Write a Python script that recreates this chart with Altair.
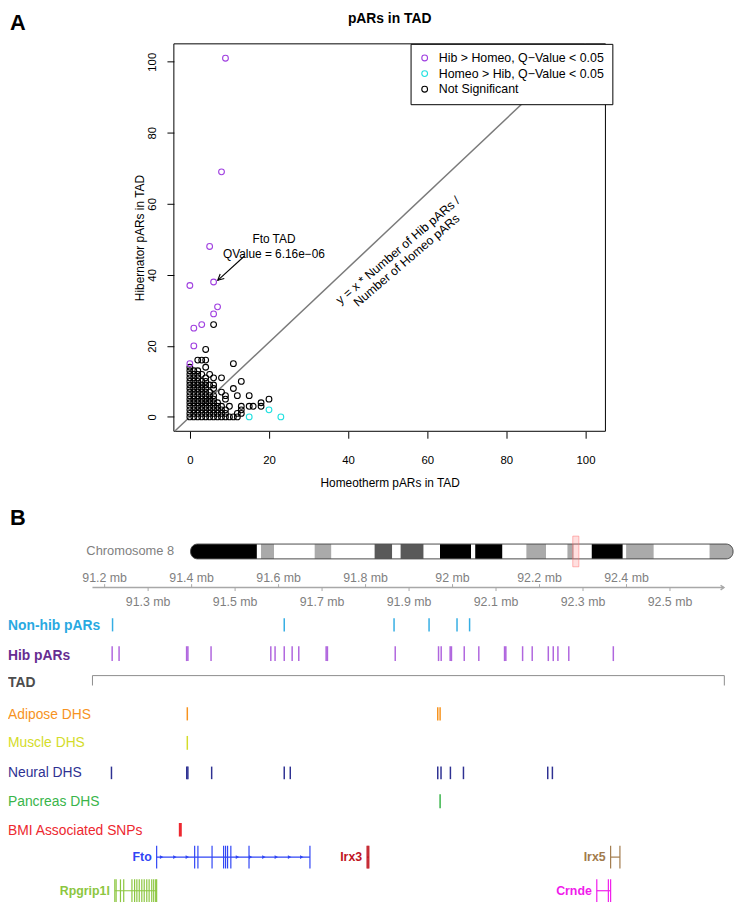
import altair as alt
import pandas as pd

# ======================= Panel A data =======================
tick_values = [0, 20, 40, 60, 80, 100]
axis_domain = [-4.04, 105.04]

hib_homeo_x = [9, 8, 5, 6, 0, 7, 6, 3, 1, 1, 0]
hib_homeo_y = [101, 69, 48, 38, 37, 31, 29, 26, 25, 20, 15]
homeo_hib_x = [15, 20, 23]
homeo_hib_y = [0, 2, 0]

# not significant TADs: hibernator count -> list of homeotherm counts
ns_rows = {
    0: [0, 1, 2, 3, 4, 5, 6, 7, 8, 9, 10, 11, 12],
    1: [0, 1, 2, 3, 4, 5, 6, 7, 8, 9, 12, 13],
    2: [0, 1, 2, 3, 4, 5, 6, 7, 8, 9, 13],
    3: [0, 1, 2, 3, 4, 5, 6, 7, 8, 10, 13, 15, 16, 18],
    4: [0, 1, 2, 3, 4, 5, 6, 7, 18],
    5: [0, 1, 2, 3, 4, 5, 6, 9, 20],
    6: [0, 1, 2, 3, 4, 5, 6, 9, 12, 15],
    7: [0, 1, 2, 3, 4, 5, 8],
    8: [0, 1, 2, 3, 4, 6, 11],
    9: [0, 1, 2, 3, 4, 5, 6],
    10: [0, 1, 2, 3, 4, 13],
    11: [0, 1, 2, 4, 6, 8],
    12: [0, 1, 2, 3, 5],
    13: [0, 1, 2],
    14: [0, 4],
    15: [11],
    16: [2, 3, 4],
    19: [4],
    26: [6],
}

pars_ratio = 1.05  # Number of Hib pARs / Number of Homeo pARs

group_names = ["Hib > Homeo, Q\u2212Value < 0.05",
               "Homeo > Hib, Q\u2212Value < 0.05",
               "Not Significant"]
group_colors = ["#A040E0", "#22E0E0", "#000000"]

fto_point_x = [6]
fto_point_y = [38]
fto_label = ["Fto TAD", "QValue = 6.16e\u221206"]
diag_label = ["y = x * Number of Hib pARs /", "Number of Homeo pARs"]
diag_label_x = [52.6]
diag_label_y = [46.9]

# ======================= Panel B data =======================
chr8_length = 129.4
band_start = [0, 15.8, 16.8, 19.9, 29.6, 33.6, 43.9, 48.1, 50.1, 55.6, 59.5, 66.9,
              67.9, 74.4, 80.1, 84.8, 89.9, 91.4, 95.7, 103.1, 103.9, 110.5, 123.8]
band_end = [15.8, 16.8, 19.9, 29.6, 33.6, 43.9, 48.1, 50.1, 55.6, 59.5, 66.9, 67.9,
            74.4, 80.1, 84.8, 89.9, 91.4, 95.7, 103.1, 103.9, 110.5, 123.8, 129.4]
band_stain = ["gpos100", "gneg", "gpos33", "gneg", "gpos33", "gneg", "gpos66", "gneg",
              "gpos66", "gneg", "gpos100", "gneg", "gpos100", "gneg", "gpos33", "gneg",
              "gpos33", "gneg", "gpos100", "gneg", "gpos33", "gneg", "gpos33"]
stain_names = ["gneg", "gpos33", "gpos66", "gpos100"]
stain_colors = ["#FFFFFF", "#AAAAAA", "#595959", "#000000"]

region_start = 91.172
region_end = 92.624

axis_upper_ticks = [91.2, 91.4, 91.6, 91.8, 92.0, 92.2, 92.4]
axis_lower_ticks = [91.3, 91.5, 91.7, 91.9, 92.1, 92.3, 92.5]

non_hib_pars = [91.2182, 91.6130, 91.8655, 91.9460, 92.0103, 92.0392]
hib_pars = [91.2173, 91.2332, 91.3885, 91.3915, 91.4447, 91.5821, 91.5919, 91.6130,
            91.6312, 91.6464, 91.7093, 91.7123, 91.8682, 91.9678, 91.9739, 91.9945,
            91.9975, 92.0269, 92.0604, 92.1196, 92.1226, 92.1611, 92.1832, 92.2202,
            92.2316, 92.2423, 92.2673, 92.3697]
tad_start = 91.172
tad_end = 92.625
adipose_dhs = [91.3901, 91.9660, 91.9714]
muscle_dhs = [91.3901]
neural_dhs = [91.2157, 91.3888, 91.3914, 91.4461, 91.6130, 91.6269, 91.9660, 91.9735,
              91.9951, 92.0251, 92.2189, 92.2296]
pancreas_dhs = [91.9714]
bmi_snps = [91.3740]

fto_exons = [91.3196, 91.4070, 91.4145, 91.4470, 91.4736, 91.4781, 91.4827, 91.4902,
             91.5320, 91.6721]
fto_strand_marks = [91.3310, 91.3615, 91.3901, 91.5054, 91.5357, 91.5662, 91.5948,
                    91.6253, 91.6533]
irx3_exons = [91.8035, 91.8055, 91.8075]
irx5_exons = [92.3635, 92.3849]
crnde_exons = [92.3317, 92.3583, 92.3635]
rpgrip1l_exons = [91.2234, 91.2264, 91.2364, 91.2439, 91.2628, 91.2689, 91.2741,
                  91.2796, 91.2855, 91.2910, 91.2969, 91.3023, 91.3083, 91.3128,
                  91.3174, 91.3196]

# ======================= layout (pixels) =======================
W, H = 735, 900
A_XR = [167.7, 604.0]
A_YR = [423.0, 31.3]
FONT = "Liberation Sans"

# ======================= Panel A =======================
xs = alt.Scale(domain=axis_domain, range=A_XR, nice=False, zero=False)
ys = alt.Scale(domain=axis_domain, range=A_YR, nice=False, zero=False)

x_axis = alt.Axis(values=tick_values, title="Homeotherm pARs in TAD", offset=A_YR[0] - H,
                  domain=False, grid=False, tickSize=7, tickColor="black", tickWidth=1,
                  labelColor="black", labelFontSize=11.5, labelPadding=23,
                  labelBaseline="middle", labelFlush=False, titleFontSize=12,
                  titleFontWeight="normal", titleColor="black", titleY=52,
                  titleBaseline="middle")
y_axis = alt.Axis(values=tick_values, title="Hibernator pARs in TAD", offset=-A_XR[0],
                  domain=False, grid=False, tickSize=7, tickColor="black", tickWidth=1,
                  labelColor="black", labelFontSize=11.5, labelPadding=14.5,
                  labelAngle=270, labelAlign="center", labelBaseline="middle",
                  labelFlush=False, titleFontSize=12, titleFontWeight="normal",
                  titleColor="black", titleX=-35, titleAngle=270,
                  titleBaseline="middle")


def ax(field):
    return alt.X(f"{field}:Q", scale=xs, axis=x_axis)


def ay(field):
    return alt.Y(f"{field}:Q", scale=ys, axis=y_axis)


rows = []
for hib, homeos in ns_rows.items():
    for h in homeos:
        rows.append({"homeo": h, "hib": hib, "group": group_names[2]})
for h, b in zip(hib_homeo_x, hib_homeo_y):
    rows.append({"homeo": h, "hib": b, "group": group_names[0]})
for h, b in zip(homeo_hib_x, homeo_hib_y):
    rows.append({"homeo": h, "hib": b, "group": group_names[1]})
pts_df = pd.DataFrame(rows)

legend = alt.Legend(orient="none", legendX=407, legendY=31.3, title=None,
                    strokeColor="black", fillColor="white", padding=8, cornerRadius=0,
                    labelFontSize=12.5, labelColor="black", labelOffset=8,
                    labelLimit=400, symbolType="circle", symbolSize=34,
                    symbolStrokeWidth=1.1, rowPadding=2.8)

points = alt.Chart(pts_df).mark_point(shape="circle", filled=False, size=34,
                                      strokeWidth=1.1, opacity=1).encode(
    x=ax("homeo"), y=ay("hib"),
    color=alt.Color("group:N", scale=alt.Scale(domain=group_names, range=group_colors),
                    legend=legend),
)

# frame of the plot region (domain limits through the scales)
frame_df = pd.DataFrame({"x0": [axis_domain[0]], "x1": [axis_domain[1]],
                         "y0": [axis_domain[0]], "y1": [axis_domain[1]]})
frame = alt.Chart(frame_df).mark_rect(fillOpacity=0, stroke="black", strokeWidth=1).encode(
    x=ax("x0"), x2="x1:Q", y=ay("y0"), y2="y1:Q")

# ratio line y = x * ratio, inside the plotting region
lx0 = max(axis_domain[0], axis_domain[0] / pars_ratio)
lx1 = min(axis_domain[1], axis_domain[1] / pars_ratio)
line_df = pd.DataFrame({"x": [lx0, lx1], "y": [lx0 * pars_ratio, lx1 * pars_ratio]})
ratio_line = alt.Chart(line_df).mark_line(color="#7A7A7A", strokeWidth=1.5).encode(
    x=ax("x"), y=ay("y"))

diag_df = pd.DataFrame({"x": diag_label_x, "y": diag_label_y})
diag_text = alt.Chart(diag_df).mark_text(
    angle=319.5, align="center", baseline="middle", fontSize=12.5,
    lineHeight=13.5, color="black").encode(
    x=ax("x"), y=ay("y"), text=alt.value(diag_label))

fto_df = pd.DataFrame({"x": fto_point_x, "y": fto_point_y})
fto_text = alt.Chart(fto_df).mark_text(
    align="center", baseline="middle", dx=61, dy=-43, fontSize=12, lineHeight=15,
    color="black").encode(x=ax("x"), y=ay("y"), text=alt.value(fto_label))
fto_arrow = alt.Chart(fto_df).mark_rule(
    color="black", strokeWidth=1.1, xOffset=31, yOffset=-26, x2Offset=4.2,
    y2Offset=-1.7).encode(x=ax("x"), y=ay("y"), x2="x:Q", y2="y:Q")
fto_head = alt.Chart(fto_df).mark_point(
    shape="M-0.5,1L0,0L0.5,1", filled=False, size=150, stroke="black", strokeWidth=1.1,
    angle=227.7, xOffset=4.2, yOffset=-1.7, opacity=1).encode(x=ax("x"), y=ay("y"))

title_df = pd.DataFrame({"t": ["pARs in TAD"]})
title_a = alt.Chart(title_df).mark_text(
    fontSize=14, fontWeight="bold", align="center", baseline="middle",
    color="black").encode(x=alt.value((A_XR[0] + A_XR[1]) / 2), y=alt.value(6),
                          text="t:N")

panel_a = alt.layer(frame, ratio_line, points, diag_text, fto_text, fto_arrow, fto_head,
                    title_a)

# ======================= Panel B =======================
gscale = alt.Scale(domain=[91.2, 92.4], range=[97.7, 625.3], nice=False, zero=False)


def gx(field):
    return alt.X(f"{field}:Q", scale=gscale, axis=None)


def label(text, y, color, size=14, weight="normal", x=0, align="left"):
    df = pd.DataFrame({"t": [text]})
    return alt.Chart(df).mark_text(fontSize=size, fontWeight=weight, color=color,
                                   align=align, baseline="middle").encode(
        x=alt.value(x), y=alt.value(y), text="t:N")


def ticks(positions, color, y0, y1, width=1.5, opacity=1.0):
    df = pd.DataFrame({"pos": positions})
    return alt.Chart(df).mark_rule(color=color, strokeWidth=width, opacity=opacity).encode(
        x=gx("pos"), y=alt.value(y0), y2=alt.value(y1))


def hline(start, end, color, y, width=1.2):
    df = pd.DataFrame({"s": [start], "e": [end]})
    return alt.Chart(df).mark_rule(color=color, strokeWidth=width).encode(
        x=gx("s"), x2="e:Q", y=alt.value(y))


b_layers = []

# panel letters
b_layers.append(label("A", 10, "black", size=22, weight="bold", x=2))
b_layers.append(label("B", 511, "black", size=22, weight="bold", x=2))

# genome axis
AX_Y = 581
b_layers.append(hline(region_start, region_end, "#A8A8A8", AX_Y, width=1.5))
arrow_df = pd.DataFrame({"pos": [region_end]})
b_layers.append(alt.Chart(arrow_df).mark_point(
    shape="M-1,-0.7L0,0L-1,0.7", filled=False, size=45, stroke="#A8A8A8",
    strokeWidth=1.5, opacity=1).encode(x=gx("pos"), y=alt.value(AX_Y)))
b_layers.append(ticks(axis_upper_ticks, "#A8A8A8", AX_Y - 3.5, AX_Y, width=1))
b_layers.append(ticks(axis_lower_ticks, "#A8A8A8", AX_Y, AX_Y + 3.5, width=1))
up_df = pd.DataFrame({"pos": axis_upper_ticks,
                      "lab": [f"{v:g} mb" for v in axis_upper_ticks]})
lo_df = pd.DataFrame({"pos": axis_lower_ticks,
                      "lab": [f"{v:g} mb" for v in axis_lower_ticks]})
b_layers.append(alt.Chart(up_df).mark_text(fontSize=12.5, color="#7F7F7F",
                                           baseline="middle").encode(
    x=gx("pos"), y=alt.value(AX_Y - 10), text="lab:N"))
b_layers.append(alt.Chart(lo_df).mark_text(fontSize=12.5, color="#7F7F7F",
                                           baseline="middle").encode(
    x=gx("pos"), y=alt.value(AX_Y + 14.3), text="lab:N"))

# data tracks
b_layers.append(label("Non-hib pARs", 619.5, "#29A9E1", weight="bold"))
b_layers.append(ticks(non_hib_pars, "#35AEE4", 612, 625.3))
b_layers.append(label("Hib pARs", 650, "#662D91", weight="bold"))
b_layers.append(ticks(hib_pars, "#A24BD8", 640.3, 655.3, opacity=0.85))

b_layers.append(label("TAD", 677.5, "#4D4D4D", weight="bold"))
b_layers.append(hline(tad_start, tad_end, "#8C8C8C", 670, width=1))
b_layers.append(ticks([tad_start, tad_end], "#8C8C8C", 670, 680, width=1))

b_layers.append(label("Adipose DHS", 709.5, "#F7931E"))
b_layers.append(ticks(adipose_dhs, "#F7931E", 702, 715.3))
b_layers.append(label("Muscle DHS", 738.5, "#D4DC2A"))
b_layers.append(ticks(muscle_dhs, "#D4DC2A", 731, 745))
b_layers.append(label("Neural DHS", 768.5, "#2E3192"))
b_layers.append(ticks(neural_dhs, "#2E3192", 762, 774.7))
b_layers.append(label("Pancreas DHS", 797.5, "#39B54A"))
b_layers.append(ticks(pancreas_dhs, "#39B54A", 790, 804))
b_layers.append(label("BMI Associated SNPs", 827.5, "#ED2830"))
b_layers.append(ticks(bmi_snps, "#ED2830", 819, 832.7, width=3))

# genes
ROW1 = (842, 865)
ROW2 = (876, 899)


def gene(name, color, exons, row, strand_marks=None):
    yc = (row[0] + row[1]) / 2
    layers = [hline(min(exons), max(exons), color, yc, width=1.2),
              ticks(exons, color, row[0], row[1], width=1.2)]
    if strand_marks:
        sdf = pd.DataFrame({"pos": strand_marks})
        layers.append(alt.Chart(sdf).mark_point(
            shape="triangle-right", filled=True, size=16, color=color, opacity=1).encode(
            x=gx("pos"), y=alt.value(yc)))
    ldf = pd.DataFrame({"pos": [min(exons)], "t": [name]})
    layers.append(alt.Chart(ldf).mark_text(
        fontSize=12.5, fontWeight="bold", color=color, align="right", baseline="middle",
        dx=-5).encode(x=gx("pos"), y=alt.value(yc), text="t:N"))
    return layers


b_layers += gene("Fto", "#2F45F5", fto_exons, ROW1, fto_strand_marks)
b_layers += gene("Irx3", "#C0141E", irx3_exons, ROW1)
b_layers += gene("Irx5", "#A27B4C", irx5_exons, ROW1)
b_layers += gene("Rpgrip1l", "#8CC63F", rpgrip1l_exons, ROW2)
b_layers += gene("Crnde", "#F01CEB", crnde_exons, ROW2)

panel_b = alt.layer(*b_layers)

# ======================= Ideogram =======================
iscale = alt.Scale(domain=[0, chr8_length], range=[184.6, 733.0], nice=False, zero=False)
IDEO = (537, 552)
bands_df = pd.DataFrame({"s": band_start, "e": band_end, "stain": band_stain})
stain_color = alt.Color("stain:N", scale=alt.Scale(domain=stain_names, range=stain_colors),
                        legend=None)


def band_layer(df, **radius):
    return alt.Chart(df).mark_rect(strokeWidth=0, **radius).encode(
        x=alt.X("s:Q", scale=iscale, axis=None), x2="e:Q",
        y=alt.value(IDEO[0]), y2=alt.value(IDEO[1]), color=stain_color)


ideo_layers = [
    band_layer(bands_df.iloc[1:-1]),
    band_layer(bands_df.iloc[:1], cornerRadiusTopLeft=7, cornerRadiusBottomLeft=7),
    band_layer(bands_df.iloc[-1:], cornerRadiusTopRight=7, cornerRadiusBottomRight=7),
]
outline_df = pd.DataFrame({"s": [0], "e": [chr8_length]})
ideo_layers.append(alt.Chart(outline_df).mark_rect(
    fillOpacity=0, stroke="#4A4A4A", strokeWidth=1, cornerRadius=7).encode(
    x=alt.X("s:Q", scale=iscale, axis=None), x2="e:Q",
    y=alt.value(IDEO[0]), y2=alt.value(IDEO[1])))
hl_df = pd.DataFrame({"s": [region_start], "e": [region_end]})
ideo_layers.append(alt.Chart(hl_df).mark_rect(
    fill="#FF8080", fillOpacity=0.25, stroke="#FF7070", strokeOpacity=0.5,
    strokeWidth=1).encode(
    x=alt.X("s:Q", scale=iscale, axis=None), x2="e:Q",
    y=alt.value(IDEO[0] - 8), y2=alt.value(IDEO[1] + 8)))
ideo_layers.append(label("Chromosome 8", 544, "#7F7F7F", size=13, x=168, align="right"))

ideogram = alt.layer(*ideo_layers)

chart = alt.layer(panel_a, panel_b, ideogram).resolve_scale(
    x="independent", y="independent", color="independent"
).properties(
    width=W, height=H, padding=0, autosize=alt.AutoSizeParams(type="none")
).configure(font=FONT).configure_view(stroke=None)

chart.save("out.html", embed_options={"renderer": "svg", "actions": False})
